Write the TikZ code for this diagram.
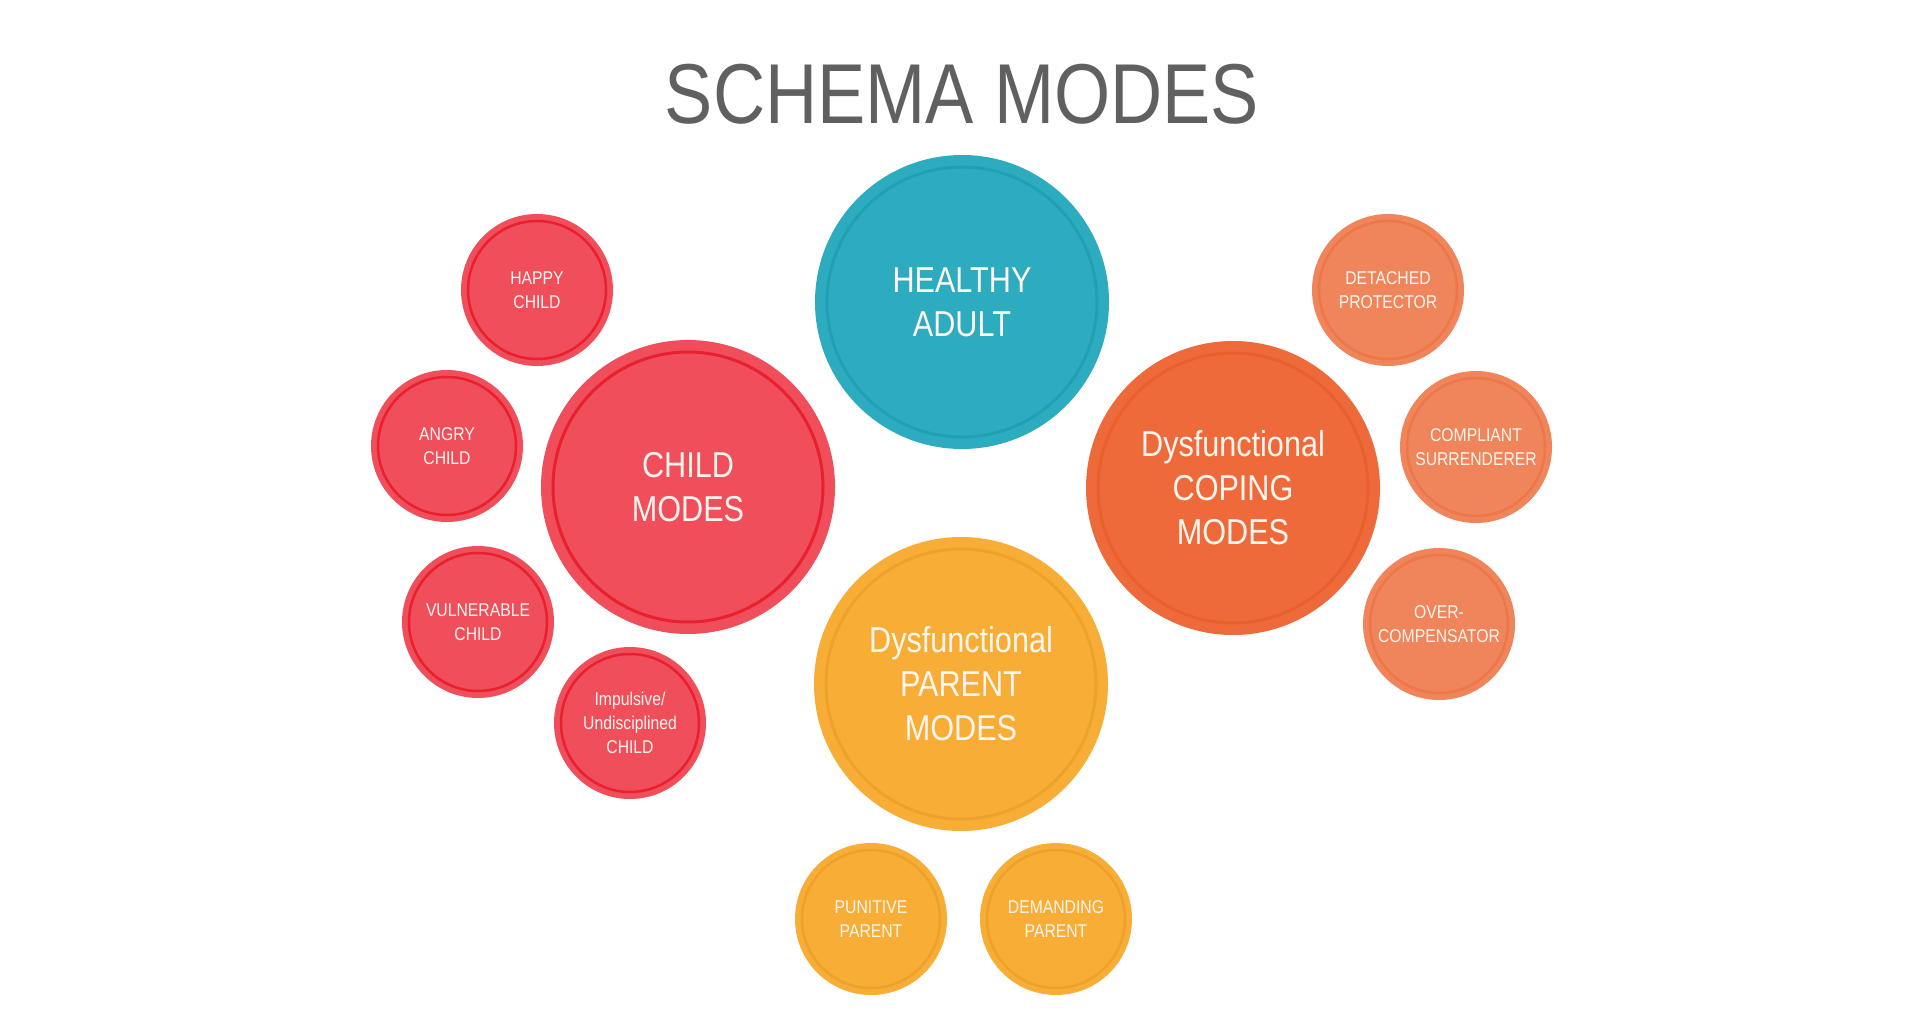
\documentclass[tikz,border=0pt]{standalone}
\usepackage{fontspec}
\setmainfont[FakeStretch=0.85]{Liberation Sans}
\definecolor{titlegray}{HTML}{606060}
\definecolor{labelwhite}{HTML}{FFF6EF}
\definecolor{adultfill}{HTML}{2EACBF}
\definecolor{adultring}{HTML}{22A0B3}
\definecolor{childfill}{HTML}{EF4E5A}
\definecolor{childring}{HTML}{E8202F}
\definecolor{copingfill}{HTML}{EF6A3B}
\definecolor{copingring}{HTML}{E95F2E}
\definecolor{copesmall}{HTML}{F0845B}
\definecolor{copesmallring}{HTML}{EC784A}
\definecolor{parentfill}{HTML}{F7AD36}
\definecolor{parentring}{HTML}{EEA229}
\tikzset{
  bigmode/.style 2 args={circle, inner sep=0pt, minimum size=270pt,
    fill=#1, draw=#2, line width=3pt, preaction={draw=#1, line width=24pt},
    text=labelwhite, align=center, font=\fontsize{36}{44}\selectfont},
  smallmode/.style 2 args={circle, inner sep=0pt, minimum size=138pt,
    fill=#1, draw=#2, line width=2.5pt, preaction={draw=#1, line width=14pt},
    text=labelwhite, align=center, font=\fontsize{18.5}{24}\selectfont},
}
\begin{document}
\begin{tikzpicture}[x=1pt,y=-1pt]
  \useasboundingbox (0,0) rectangle (1920,1030);
  \node[anchor=base, text=titlegray, font=\fontsize{85}{90}\selectfont] (title) at (962,124) {SCHEMA MODES};
  % main modes
  \draw
    (962,302) node[bigmode={adultfill}{adultring}] (adult) {HEALTHY\\ADULT}
    (688,487) node[bigmode={childfill}{childring}] (child) {CHILD\\MODES}
    (1233,488) node[bigmode={copingfill}{copingring}] (coping) {Dysfunctional\\COPING\\MODES}
    (961,684) node[bigmode={parentfill}{parentring}] (parent) {Dysfunctional\\PARENT\\MODES};
  % child modes
  \draw
    (537,290) node[smallmode={childfill}{childring}] (happy) {HAPPY\\CHILD}
    (447,446) node[smallmode={childfill}{childring}] (angry) {ANGRY\\CHILD}
    (478,622) node[smallmode={childfill}{childring}] (vulnerable) {VULNERABLE\\CHILD}
    (630,723) node[smallmode={childfill}{childring}] (impulsive) {Impulsive/\\Undisciplined\\CHILD};
  % coping modes
  \draw
    (1388,290) node[smallmode={copesmall}{copesmallring}] (detached) {DETACHED\\PROTECTOR}
    (1476,447) node[smallmode={copesmall}{copesmallring}] (compliant) {COMPLIANT\\SURRENDERER}
    (1439,624) node[smallmode={copesmall}{copesmallring}] (over) {OVER-\\COMPENSATOR};
  % parent modes
  \draw
    (871,919) node[smallmode={parentfill}{parentring}] (punitive) {PUNITIVE\\PARENT}
    (1056,919) node[smallmode={parentfill}{parentring}] (demanding) {DEMANDING\\PARENT};
\end{tikzpicture}
\end{document}
